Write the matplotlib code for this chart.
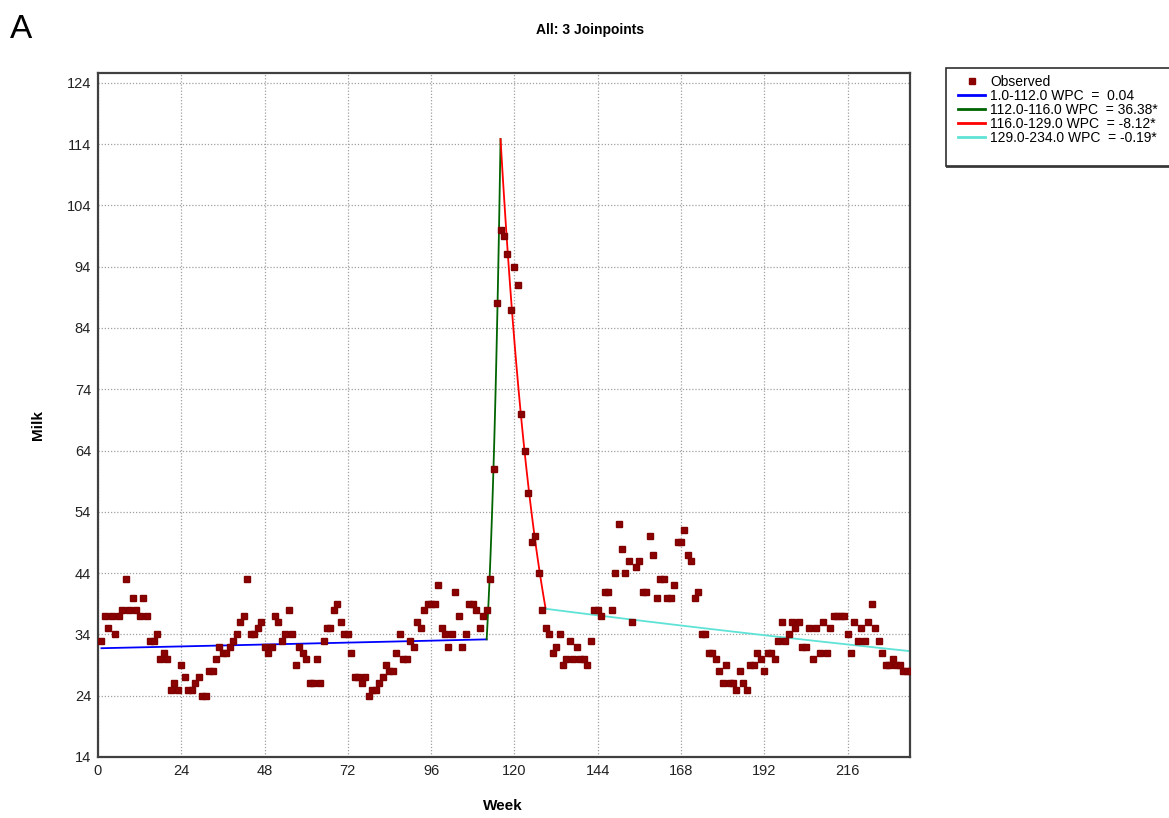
import numpy as np
import matplotlib
matplotlib.use("Agg")
import matplotlib.pyplot as plt
from matplotlib.lines import Line2D
from matplotlib.patches import Rectangle

plt.rcParams['font.family'] = ['Liberation Sans', 'DejaVu Sans']

milk = [
    33, 37, 35, 37, 34, 37, 38, 43, 38, 40,
    38, 37, 40, 37, 33, 33, 34, 30, 31, 30,
    25, 26, 25, 29, 27, 25, 25, 26, 27, 24,
    24, 28, 28, 30, 32, 31, 31, 32, 33, 34,
    36, 37, 43, 34, 34, 35, 36, 32, 31, 32,
    37, 36, 33, 34, 38, 34, 29, 32, 31, 30,
    26, 26, 30, 26, 33, 35, 35, 38, 39, 36,
    34, 34, 31, 27, 27, 26, 27, 24, 25, 25,
    26, 27, 29, 28, 28, 31, 34, 30, 30, 33,
    32, 36, 35, 38, 39, 39, 39, 42, 35, 34,
    32, 34, 41, 37, 32, 34, 39, 39, 38, 35,
    37, 38, 43, 61, 88, 100, 99, 96, 87, 94,
    91, 70, 64, 57, 49, 50, 44, 38, 35, 34,
    31, 32, 34, 29, 30, 33, 30, 32, 30, 30,
    29, 33, 38, 38, 37, 41, 41, 38, 44, 52,
    48, 44, 46, 36, 45, 46, 41, 41, 50, 47,
    40, 43, 43, 40, 40, 42, 49, 49, 51, 47,
    46, 40, 41, 34, 34, 31, 31, 30, 28, 26,
    29, 26, 26, 25, 28, 26, 25, 29, 29, 31,
    30, 28, 31, 31, 30, 33, 36, 33, 34, 36,
    35, 36, 32, 32, 35, 30, 35, 31, 36, 31,
    35, 37, 37, 37, 37, 34, 31, 36, 33, 35,
    33, 36, 39, 35, 33, 31, 29, 29, 30, 29,
    29, 28, 28, 28,
]
weeks = np.arange(1, len(milk) + 1)

# Joinpoint model: segment ends, weekly percent change, fitted start value
joinpoints = [1, 112, 116, 129, 234]
wpc = [0.04, 36.38, -8.12, -0.19]
wpc_labels = [' 0.04', '36.38*', '-8.12*', '-0.19*']
fit_start = 31.75
seg_colors = ['#0000ff', '#006400', '#ff0000', '#5fe3d6']

W, H = 1169, 818
fig = plt.figure(figsize=(W / 100, H / 100), dpi=100)
ax = fig.add_axes([98 / W, 1 - 757 / H, (910 - 98) / W, (757 - 73) / H])

# fitted segments (log-linear between joinpoints)
y0 = fit_start
handles = [Line2D([], [], marker='s', ls='none', ms=4.5, color='#8b0000')]
labels = ['Observed']
for i in range(len(wpc)):
    xa, xb = joinpoints[i], joinpoints[i + 1]
    xs = np.linspace(xa, xb, 60)
    ys = y0 * (1 + wpc[i] / 100.0) ** (xs - xa)
    ax.plot(xs, ys, color=seg_colors[i], lw=1.3, zorder=2)
    y0 = ys[-1]
    handles.append(Line2D([], [], color=seg_colors[i], lw=2))
    labels.append('%.1f-%.1f WPC  = %s' % (xa, xb, wpc_labels[i]))

ax.plot(weeks, milk, 's', ms=5, color='#8b0000', mec='#800000', zorder=3)

ax.set_xlim(0, 234)
ax.set_ylim(14, 125.6)
ax.set_xticks(np.arange(0, 217, 24))
ax.set_yticks(np.arange(14, 125, 10))
ax.grid(True, color='#a0a0a0', lw=0.9, ls=(0, (1, 1.5)))
ax.set_axisbelow(True)
ax.tick_params(length=0, pad=5, labelsize=10.5, colors='#222222')
for lab in ax.get_xticklabels() + ax.get_yticklabels():
    lab.set_family(['Liberation Sans Narrow', 'Liberation Sans', 'DejaVu Sans'])
for sp in ax.spines.values():
    sp.set_color('#404040')
    sp.set_linewidth(1.6)

fig.text(0.505, 0.963, 'All: 3 Joinpoints', ha='center', va='center',
         fontsize=10, fontweight='bold')
fig.text(0.0086, 0.9535, 'A', fontsize=24, va='baseline', ha='left')
fig.text(0.0325, 0.48, 'Milk', rotation=90, ha='center', va='center',
         fontsize=11, fontweight='bold')
fig.text(0.430, 0.0147, 'Week', ha='center', va='center',
         fontsize=11, fontweight='bold')

# legend box (runs off the right edge like the original)
box_x0, box_y0, box_x1, box_y1 = 946, 68, 1180, 166
fig.patches.append(Rectangle((box_x0 / W, 1 - (box_y1 + 2) / H),
                             (box_x1 - box_x0) / W, (box_y1 - box_y0) / H,
                             transform=fig.transFigure, facecolor='#505050',
                             edgecolor='none', zorder=1))
fig.patches.append(Rectangle((box_x0 / W, 1 - box_y1 / H),
                             (box_x1 - box_x0) / W, (box_y1 - box_y0) / H,
                             transform=fig.transFigure, facecolor='white',
                             edgecolor='#303030', lw=1.2, zorder=2))

leg = fig.legend(handles, labels, loc='upper left',
                 bbox_to_anchor=(958 / W, 1 - 75 / H),
                 fontsize=10, frameon=False, handlelength=1.95,
                 handletextpad=0.35, labelspacing=0.0, borderpad=0,
                 borderaxespad=0)
leg.set_zorder(5)

fig.savefig('out.png', dpi=100)
